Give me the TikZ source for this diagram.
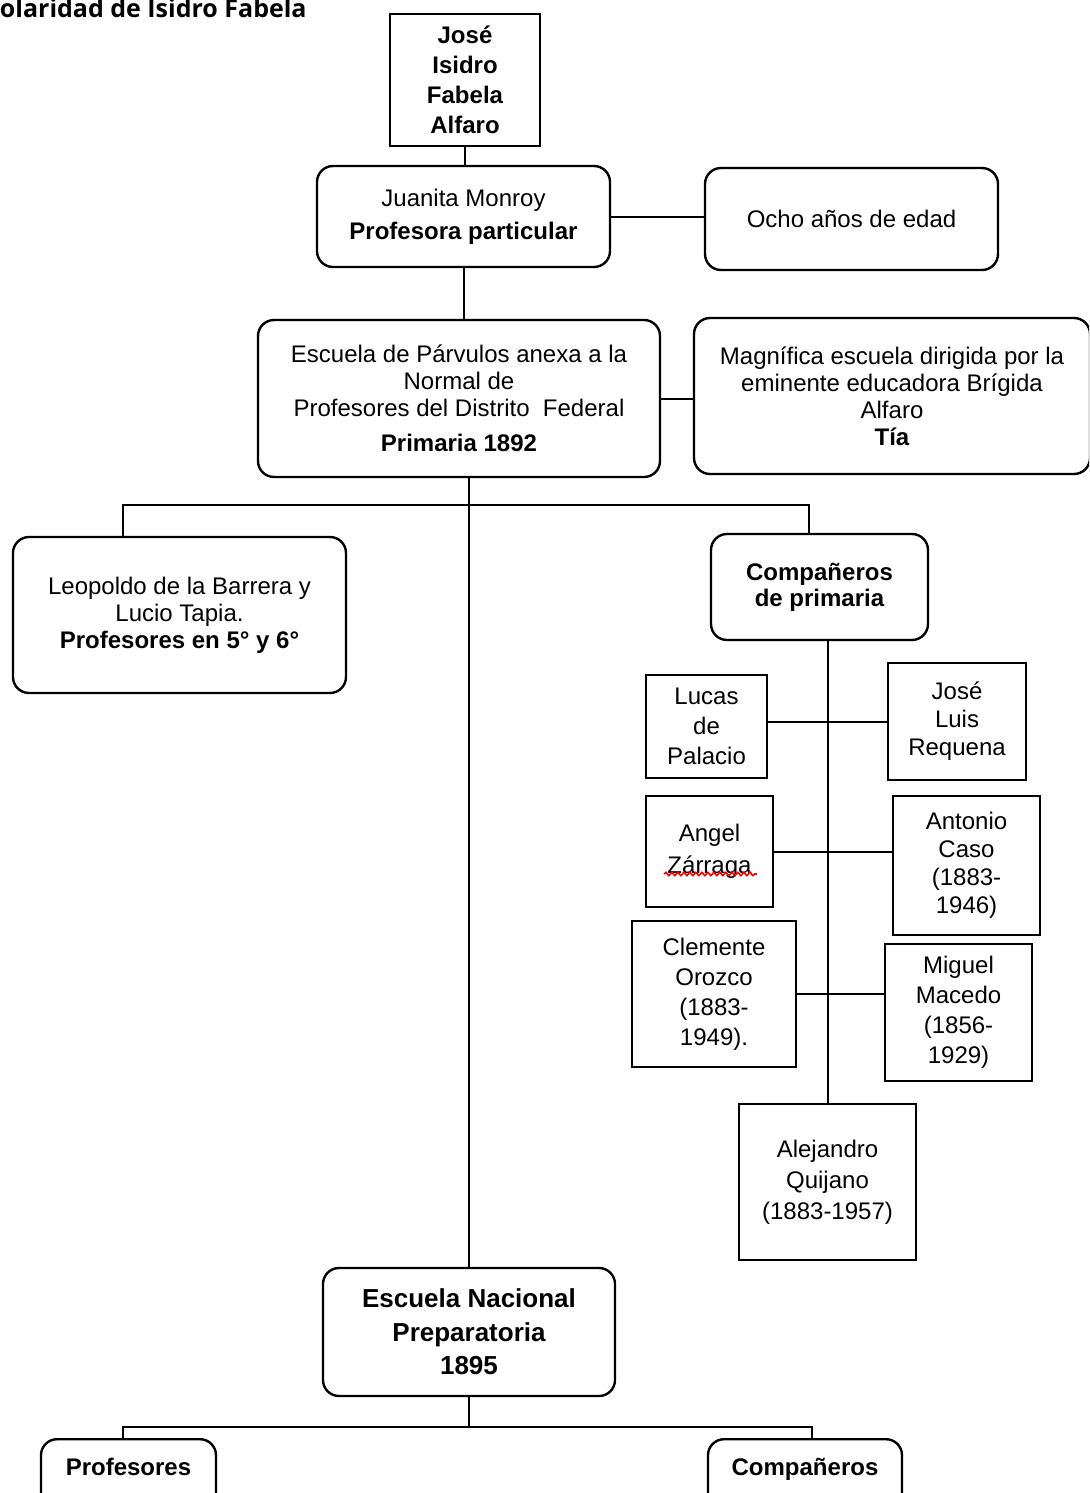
\documentclass[tikz,border=0pt]{standalone}
\usepackage{fontspec}
\setmainfont{Liberation Sans}
\newfontfamily\titlefont{Open Sans}
\usetikzlibrary{decorations.pathmorphing}

\begin{document}
\begin{tikzpicture}[x=0.5pt,y=-0.5pt]

    % Box styles
    \tikzset{
        rbox/.style={draw, line width=1.2pt, rounded corners=8pt, align=center, inner sep=1pt,
            font=\fontsize{12}{13.5}\selectfont},
        sbox/.style={draw, line width=1.2pt, align=center, inner sep=1pt,
            font=\fontsize{12}{15}\selectfont},
        link/.style={line width=1pt}
    }

    \clip (0,0) rectangle (1089,1493);

    % Title
    \node[anchor=base east, inner sep=0pt, font=\titlefont\bfseries\fontsize{12.5}{14}\selectfont] (title) at (307,18) {Escolaridad de Isidro Fabela};

    % Boxes
    \node[sbox, minimum width=75pt, minimum height=66pt, font=\bfseries\fontsize{12}{15}\selectfont] (jose) at (465,80) {José\\Isidro\\Fabela\\Alfaro};
    \node[rbox, minimum width=146.5pt, minimum height=50.5pt] (juanita) at (463.5,216.5) {Juanita Monroy\\[3pt]\textbf{Profesora particular}};
    \node[rbox, minimum width=146.5pt, minimum height=51pt] (ocho) at (851.5,219) {Ocho años de edad};
    \node[rbox, minimum width=201pt, minimum height=78.5pt] (parvulos) at (459,398.5) {Escuela de Párvulos anexa a la\\Normal de\\Profesores del Distrito~ Federal\\[4pt]\textbf{Primaria 1892}};
    \node[rbox, minimum width=198pt, minimum height=78pt] (magnifica) at (892,396) {Magnífica escuela dirigida por la\\eminente educadora Brígida\\Alfaro\\\textbf{Tía}};
    \node[rbox, minimum width=166.5pt, minimum height=78pt] (leopoldo) at (179.5,615) {Leopoldo de la Barrera y\\Lucio Tapia.\\\textbf{Profesores en 5° y 6°}};
    \node[rbox, minimum width=108.5pt, minimum height=53pt, font=\bfseries\fontsize{12}{13}\selectfont] (comp) at (819.5,587) {Compañeros\\de primaria};
    \node[sbox, minimum width=60.5pt, minimum height=51.5pt] (lucas) at (706.5,726.5) {Lucas\\de\\Palacio};
    \node[sbox, minimum width=69pt, minimum height=58.5pt, font=\fontsize{12}{14}\selectfont] (joseluis) at (957,721.5) {José\\Luis\\Requena};
    \node[sbox, minimum width=63.5pt, minimum height=55.5pt, font=\fontsize{12}{16}\selectfont] (angel) at (709.5,851.5) {Angel\\Zárraga};
    \node[sbox, minimum width=73.5pt, minimum height=69.5pt, font=\fontsize{12}{14}\selectfont] (antonio) at (966.5,865.5) {Antonio\\Caso\\(1883-\\1946)};
    \node[sbox, minimum width=82pt, minimum height=73pt] (clemente) at (714,994) {Clemente\\Orozco\\(1883-\\1949).};
    \node[sbox, minimum width=73.5pt, minimum height=68.5pt] (miguel) at (958.5,1012.5) {Miguel\\Macedo\\(1856-\\1929)};
    \node[sbox, minimum width=88.5pt, minimum height=78pt, font=\fontsize{12}{15.5}\selectfont] (alejandro) at (827.5,1182) {Alejandro\\Quijano\\(1883-1957)};
    \node[rbox, minimum width=146pt, minimum height=64pt, font=\bfseries\fontsize{13}{16.75}\selectfont] (nacional) at (469,1332) {Escuela Nacional\\Preparatoria\\1895};
    \node[rbox, anchor=north, minimum width=87.5pt, inner ysep=5pt, text height=13pt, text depth=16pt] (profesores) at (128.5,1438) {\textbf{Profesores}};
    \node[rbox, anchor=north, minimum width=97pt, inner ysep=5pt, text height=13pt, text depth=16pt] (companeros) at (805,1438) {\textbf{Compañeros}};

    % Links at the top
    \draw[link] (jose.south) -- (jose.south |- juanita.north);
    \draw[link] (juanita.east) -- (ocho.west |- juanita.east);
    \draw[link] (juanita.south) -- (juanita.south |- parvulos.north);
    \draw[link] (parvulos.east) -- (magnifica.west |- parvulos.east);

    % Bus under Primaria
    \coordinate (busA) at (123,505);
    \coordinate (busB) at (809,505);
    \draw[link] (busA |- leopoldo.north) -- (busA) -- (busB) -- (busB |- comp.north);
    \draw[link] (nacional.north |- parvulos.south) -- (nacional.north);

    % Classmates
    \draw[link] (comp.south -| alejandro.north) -- (alejandro.north);
    \draw[link] (joseluis.west -| lucas.east) -- (joseluis.west);
    \draw[link] (angel.east) -- (antonio.west |- angel.east);
    \draw[link] (clemente.east) -- (miguel.west |- clemente.east);

    % Spelling mark
    \draw[red, line width=0.8pt, decorate, decoration={snake, amplitude=0.8pt, segment length=3pt}] (664,874) -- (757,874);

    % Bus under Preparatoria
    \coordinate (busC) at (123,1427);
    \coordinate (busD) at (812,1427);
    \draw[link] (nacional.south) -- (nacional.south |- busC);
    \draw[link] (busC |- profesores.north) -- (busC) -- (busD) -- (busD |- companeros.north);
\end{tikzpicture}
\end{document}
